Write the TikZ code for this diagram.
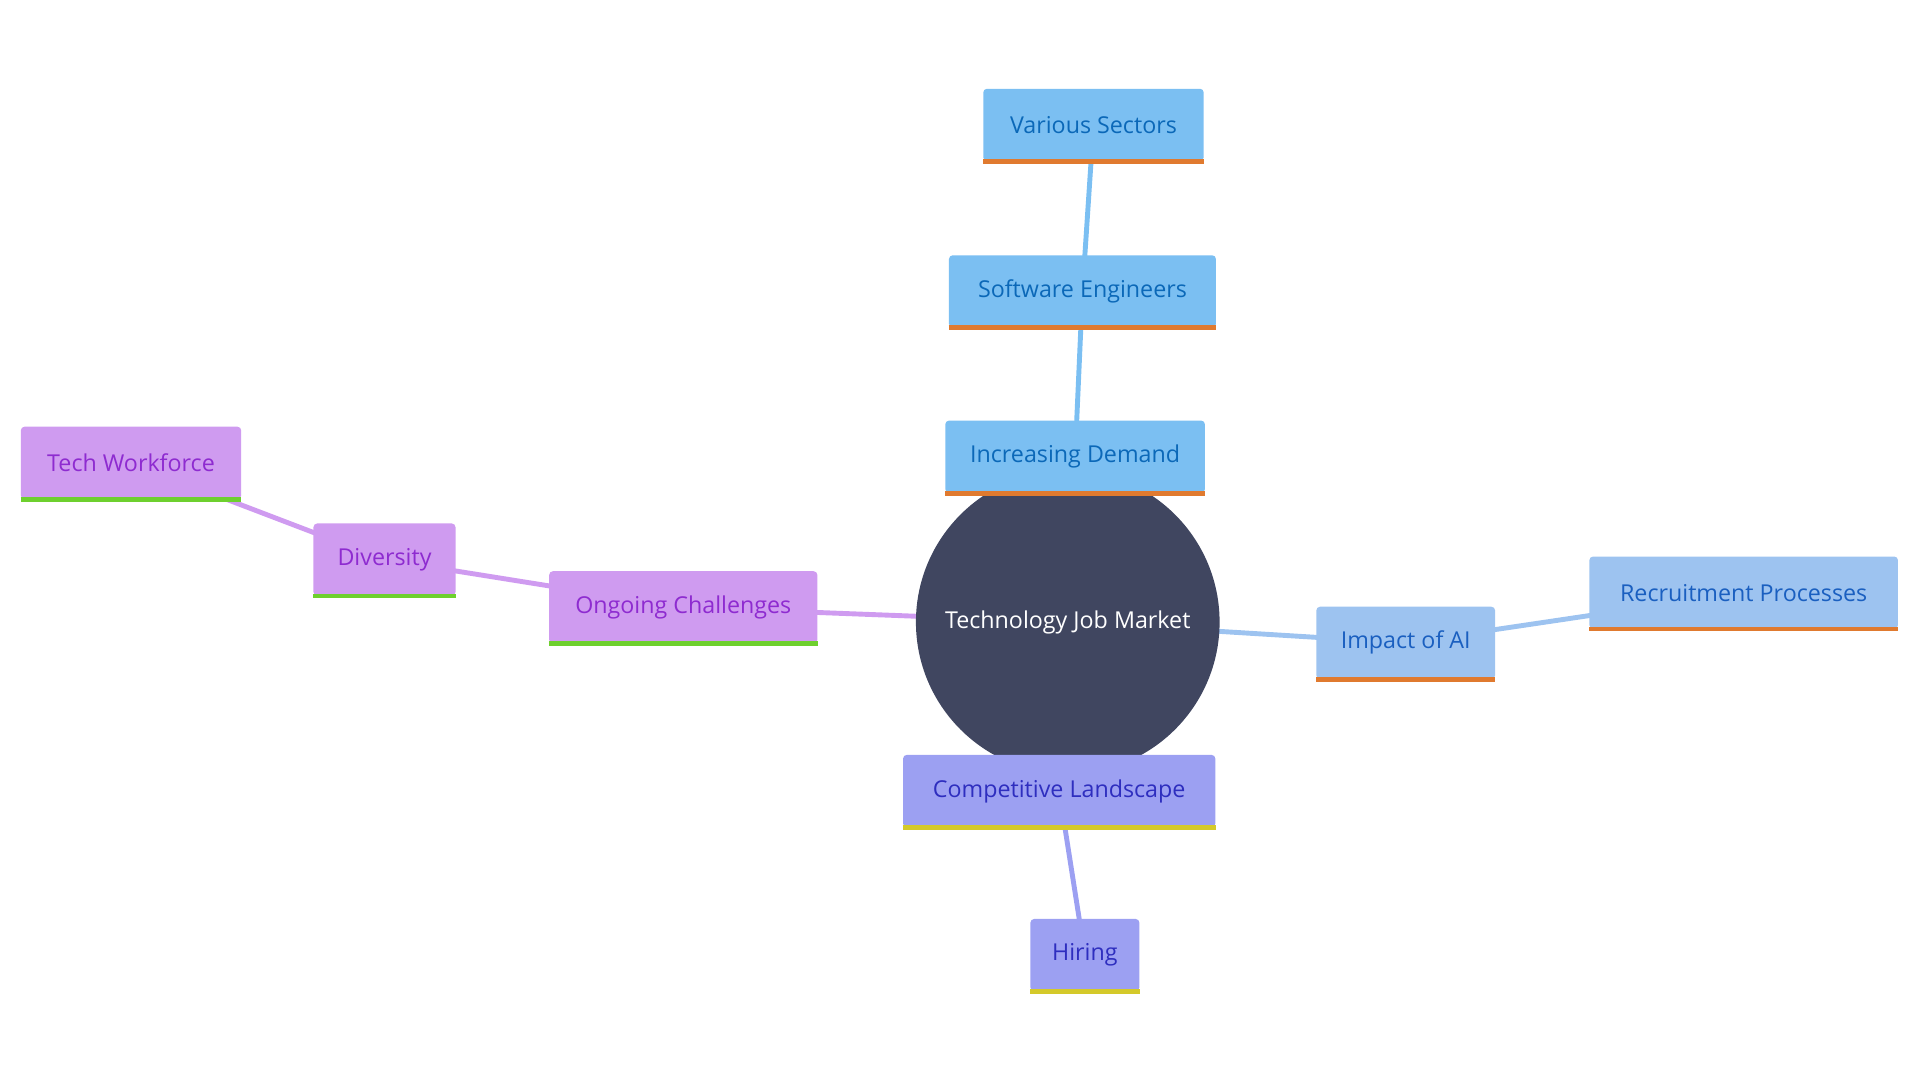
\documentclass[tikz,border=0pt]{standalone}
\usepackage{fontspec}
\setmainfont{Open Sans}
\usetikzlibrary{backgrounds}
\begin{document}
\begin{tikzpicture}[x=1pt,y=-1pt,
 box/.style={rounded corners=3pt,minimum height=59pt,inner sep=0pt,font=\fontsize{19}{22}\selectfont},
 bl/.style={box,fill=blue1,text=bluet},
 ai/.style={box,fill=blue2,text=bluet2},
 pu/.style={box,fill=purp,text=purpt},
 vi/.style={box,fill=viol,text=violt},
 ln/.style={line width=4pt}]
\definecolor{blue1}{HTML}{7BBFF2}\definecolor{bluet}{HTML}{0B68B8}
\definecolor{blue2}{HTML}{9DC3F0}\definecolor{bluet2}{HTML}{1A5FC0}
\definecolor{purp}{HTML}{CF9BF0}\definecolor{purpt}{HTML}{8E2BD0}
\definecolor{viol}{HTML}{9CA0F2}\definecolor{violt}{HTML}{2E2EBF}
\definecolor{orng}{HTML}{E07A2F}\definecolor{grn}{HTML}{6ED02E}\definecolor{yel}{HTML}{D4C92A}
\definecolor{core}{HTML}{404660}
\useasboundingbox (0,0) rectangle (1568,882);
\node[circle,fill=core,minimum size=248pt,text=white,font=\fontsize{19}{22}\selectfont] (c) at (872,508) {Technology Job Market};
\node[bl,minimum width=180pt] (vs) at (893,102) {Various Sectors};
\node[bl,minimum width=218pt] (se) at (884,238) {Software Engineers};
\node[bl,minimum width=212pt] (id) at (878,373) {Increasing Demand};
\node[ai,minimum width=146pt] (ai) at (1148,525) {Impact of AI};
\node[ai,minimum width=252pt] (rp) at (1424,484) {Recruitment Processes};
\node[vi,minimum width=255pt] (cl) at (865,646) {Competitive Landscape};
\node[vi,minimum width=89pt] (hi) at (886,780) {Hiring};
\node[pu,minimum width=219pt] (oc) at (558,496) {Ongoing Challenges};
\node[pu,minimum width=116pt] (dv) at (314,457) {Diversity};
\node[pu,minimum width=180pt] (tw) at (107,378) {Tech Workforce};
\begin{scope}[on background layer]
\draw[ln,blue1] (c.center) -- (id.center) -- (se.center) -- (vs.center);
\draw[ln,blue2] (c.center) -- (ai.center) -- (rp.center);
\draw[ln,viol] (c.center) -- (cl.center) -- (hi.center);
\draw[ln,purp] (c.center) -- (oc.center) -- (dv.center) -- (tw.center);
\end{scope}
\foreach \n/\col in {vs/orng,se/orng,id/orng,ai/orng,rp/orng,cl/yel,hi/yel,oc/grn,dv/grn,tw/grn}
 \draw[\col,line width=4pt] (\n.south west) -- (\n.south east);
\end{tikzpicture}
\end{document}
